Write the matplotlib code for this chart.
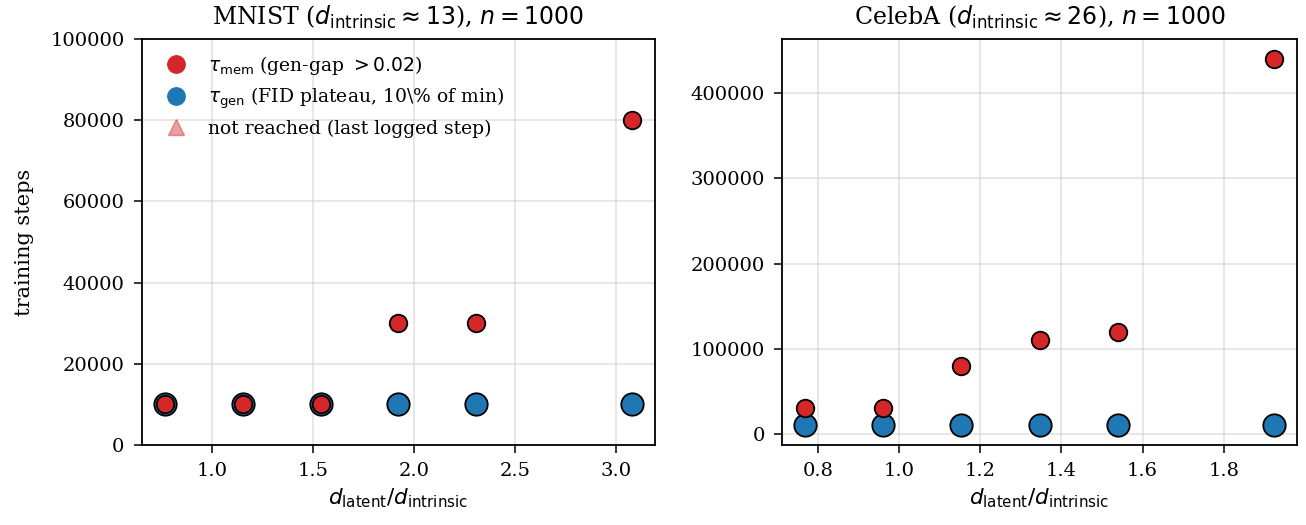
import matplotlib
matplotlib.use('Agg')
import numpy as np
import matplotlib.pyplot as plt
from matplotlib.lines import Line2D

plt.rcParams['font.family'] = 'DejaVu Serif'
plt.rcParams['mathtext.fontset'] = 'dejavusans'

# MNIST, d_intrinsic ~ 13
mnist_ratio = [10 / 13, 15 / 13, 20 / 13, 25 / 13, 30 / 13, 40 / 13]
mnist_mem = [10000, 10000, 10000, 30000, 30000, 80000]
mnist_gen = [10000, 10000, 10000, 10000, 10000, 10000]

# CelebA, d_intrinsic ~ 26
celeba_ratio = [20 / 26, 25 / 26, 30 / 26, 35 / 26, 40 / 26, 50 / 26]
celeba_mem = [30000, 30000, 80000, 110000, 120000, 440000]
celeba_gen = [10000, 10000, 10000, 10000, 10000, 10000]

titles = [r"MNIST ($d_{\mathrm{intrinsic}} \approx 13$), $n = 1000$",
          r"CelebA ($d_{\mathrm{intrinsic}} \approx 26$), $n = 1000$"]

RED = '#d62728'
BLUE = '#1f77b4'

fig = plt.figure(figsize=(13.06, 5.25), dpi=100)
ax1 = fig.add_axes([0.1087, 0.1524, 0.3928, 0.7733])
ax2 = fig.add_axes([0.5988, 0.1524, 0.3943, 0.7733])

for ax, x, mem, gen, title in [(ax1, mnist_ratio, mnist_mem, mnist_gen, titles[0]),
                               (ax2, celeba_ratio, celeba_mem, celeba_gen, titles[1])]:
    ax.scatter(x, gen, s=260, c=BLUE, edgecolors='black', linewidths=1.3, zorder=3)
    ax.scatter(x, mem, s=160, c=RED, edgecolors='black', linewidths=1.3, zorder=4)
    ax.grid(True, color='#d0d0d0', alpha=0.6, linewidth=1.2)
    ax.set_axisbelow(True)
    ax.set_title(title, fontsize=17, pad=10)
    ax.set_xlabel(r"$d_{\mathrm{latent}}/d_{\mathrm{intrinsic}}$", fontsize=15.5, labelpad=4)
    ax.tick_params(labelsize=14, length=5.5, width=1.1, pad=7)
    for s in ax.spines.values():
        s.set_linewidth(1.3)

ax1.set_ylim(0, 100000)
ax2.set_ylim(-12900, 463600)
ax2.set_yticks([0, 100000, 200000, 300000, 400000])
ax1.set_ylabel("training steps", fontsize=15, labelpad=12)

handles = [
    Line2D([], [], marker='o', linestyle='none', color=RED, markersize=12.5),
    Line2D([], [], marker='o', linestyle='none', color=BLUE, markersize=12.5),
    Line2D([], [], marker='^', linestyle='none', color=RED, alpha=0.45, markersize=11),
]
labels = [r"$\tau_{\mathrm{mem}}$ (gen-gap $> 0.02$)",
          r"$\tau_{\mathrm{gen}}$ (FID plateau, 10\% of min)",
          "not reached (last logged step)"]
ax1.legend(handles, labels, loc='upper left', frameon=False, fontsize=13.5,
           handletextpad=0.7, labelspacing=0.45, borderaxespad=0.4)

fig.savefig('out.png', dpi=100)
